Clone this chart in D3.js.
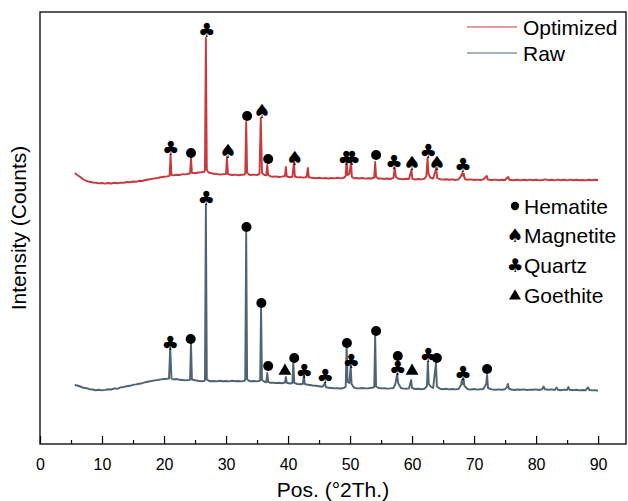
<!doctype html>
<html lang="en">
<head>
  <meta charset="utf-8">
  <title>XRD</title>
  <style>
  body { margin: 0; background: #fff; }
  svg { display: block; font-family: "Liberation Sans", Arial, sans-serif; }
  .tick line { stroke: #000; stroke-width: 1.2; }
  .tick text { font-size: 16px; fill: #000; }
  .mark { font-family: "DejaVu Sans", sans-serif; }
  </style>
</head>
<body>
  <div id="chart"></div>
  <script src="https://cdn.jsdelivr.net/npm/d3@7"></script>
  <script>
  // series as [2theta, counts] (optimized is drawn offset above raw)
  var rawSeries = [[5.6,590],[6,585],[6.5,575],[7,562],[7.5,558],[8,548],[8.5,545],[9,538],[9.5,542],[10,536],[10.5,541],[11,548],[11.5,545],[12,556],[12.5,552],[13,566],[13.5,570],[14,578],[14.5,582],[15,592],[15.5,596],[16,602],[16.5,608],[17,618],[17.5,625],[18,630],[18.5,636],[19,640],[19.5,646],[20,650],[20.5,652],[20.8,654],[21,960],[21.2,655],[21.5,645],[22,650],[22.5,642],[23,640],[23.5,636],[24,640],[24.2,642],[24.35,1010],[24.5,645],[25,638],[25.5,632],[26,628],[26.5,630],[26.6,640],[26.75,2390],[26.9,645],[27.2,632],[27.5,628],[28,630],[28.5,626],[29,632],[29.5,628],[30,630],[30.5,626],[31,632],[31.5,628],[32,630],[32.5,626],[33,632],[33.1,645],[33.25,2120],[33.4,648],[33.7,632],[34,628],[34.5,630],[35,626],[35.5,635],[35.65,1360],[35.8,640],[36.2,622],[36.5,618],[36.65,710],[36.8,620],[37.2,612],[37.5,614],[38,610],[38.5,612],[39,608],[39.5,615],[39.65,670],[39.8,612],[40.3,605],[40.7,610],[40.85,820],[41,612],[41.5,600],[42,598],[42.4,602],[42.55,690],[42.7,600],[43,595],[43.5,590],[44,585],[44.5,582],[45,578],[45.5,572],[45.8,590],[45.95,610],[46.1,570],[46.5,562],[47,560],[47.5,556],[48,558],[48.5,555],[49,560],[49.3,575],[49.45,990],[49.6,620],[49.9,610],[50.1,780],[50.25,600],[50.6,565],[51,558],[51.5,556],[52,560],[52.5,556],[53,558],[53.5,562],[53.9,570],[54.05,1080],[54.2,575],[54.6,560],[55,556],[55.5,558],[56,554],[56.5,556],[57,560],[57.3,600],[57.6,700],[57.75,610],[58.2,560],[58.5,556],[59,552],[59.5,556],[59.85,640],[60,560],[60.5,550],[61,552],[61.5,548],[62,552],[62.4,580],[62.55,820],[62.7,600],[63,575],[63.4,560],[63.85,810],[64,575],[64.5,552],[65,548],[65.5,552],[66,546],[66.5,550],[67,546],[67.5,550],[67.9,590],[68.05,640],[68.2,600],[68.3,655],[68.45,580],[69,548],[69.5,545],[70,550],[70.5,544],[71,548],[71.5,550],[71.95,600],[72.1,690],[72.25,560],[72.8,546],[73.5,542],[74,546],[74.5,542],[75,548],[75.3,570],[75.45,600],[75.6,555],[76,545],[76.5,540],[77,545],[77.5,542],[78,546],[78.5,540],[79,544],[79.5,542],[80,546],[80.5,540],[81,548],[81.2,575],[81.4,548],[82,542],[82.5,546],[83,540],[83.3,565],[83.5,542],[84,538],[84.5,544],[85,540],[85.2,570],[85.4,542],[86,538],[86.5,542],[87,536],[87.5,540],[88,538],[88.4,565],[88.6,540],[89,536],[89.5,538],[90,534]];

  var optSeries = [[5.6,2710],[6,2690],[6.5,2670],[7,2645],[7.5,2630],[8,2622],[8.5,2615],[9,2612],[9.5,2606],[10,2610],[10.5,2604],[11,2610],[11.5,2605],[12,2612],[12.5,2608],[13,2614],[13.5,2612],[14,2620],[14.5,2618],[15,2625],[15.5,2622],[16,2632],[16.5,2630],[17,2640],[17.5,2645],[18,2650],[18.5,2656],[19,2660],[19.5,2668],[20,2672],[20.5,2676],[20.9,2682],[21.05,2890],[21.2,2690],[21.5,2686],[22,2692],[22.5,2690],[23,2698],[23.5,2696],[24,2702],[24.2,2708],[24.35,2860],[24.5,2712],[25,2708],[25.5,2715],[26,2718],[26.5,2722],[26.6,2740],[26.75,4060],[26.9,2740],[27.2,2715],[27.5,2710],[28,2702],[28.5,2700],[29,2694],[29.5,2698],[30,2700],[30.15,2870],[30.3,2700],[30.7,2692],[31,2690],[31.5,2694],[32,2688],[32.5,2692],[33,2694],[33.1,2710],[33.25,3220],[33.4,2712],[33.7,2695],[34,2690],[34.5,2694],[35,2690],[35.4,2700],[35.6,3260],[35.8,2710],[36.2,2690],[36.5,2688],[36.65,2790],[36.8,2690],[37.2,2676],[37.5,2672],[38,2676],[38.5,2670],[39,2674],[39.5,2680],[39.65,2770],[39.8,2675],[40.3,2668],[40.7,2672],[40.95,2820],[41.1,2675],[41.5,2666],[42,2668],[42.5,2664],[43,2670],[43.2,2760],[43.35,2668],[43.8,2662],[44.5,2658],[45,2662],[45.5,2656],[46,2660],[46.5,2655],[47,2660],[47.5,2656],[48,2662],[48.5,2656],[49,2662],[49.3,2680],[49.45,2840],[49.6,2690],[49.9,2700],[50.15,2820],[50.3,2670],[50.7,2656],[51,2660],[51.5,2655],[52,2660],[52.5,2654],[53,2658],[53.5,2655],[53.9,2665],[54.05,2820],[54.2,2670],[54.6,2652],[55,2656],[55.5,2650],[56,2655],[56.5,2650],[57,2662],[57.2,2760],[57.4,2670],[57.8,2652],[58.5,2648],[59,2652],[59.5,2650],[59.9,2740],[60.05,2652],[60.5,2645],[61,2650],[61.5,2646],[62,2652],[62.3,2680],[62.5,2860],[62.65,2700],[63,2660],[63.4,2655],[63.9,2760],[64.05,2660],[64.5,2648],[65,2644],[65.5,2648],[66,2642],[66.5,2646],[67,2640],[67.5,2646],[67.9,2680],[68.1,2710],[68.25,2680],[68.35,2700],[68.5,2650],[69,2642],[69.5,2646],[70,2640],[70.5,2644],[71,2640],[71.5,2646],[72.05,2680],[72.2,2645],[72.8,2640],[73.5,2644],[74,2638],[74.5,2642],[75,2640],[75.5,2670],[75.7,2642],[76.2,2638],[77,2642],[77.5,2636],[78,2642],[78.5,2638],[79,2644],[79.5,2638],[80,2642],[80.5,2636],[81,2640],[81.5,2646],[82,2638],[82.5,2642],[83,2636],[83.5,2644],[84,2638],[84.5,2642],[85,2636],[85.5,2644],[86,2638],[86.5,2642],[87,2638],[87.5,2640],[88,2636],[88.5,2642],[89,2638],[89.5,2642],[90,2640]];

  // phase labels: [2theta, counts, phase]
  var optMarks = [[21.1,2960,'Q'],[24.35,2910,'H'],[26.9,4140,'Q'],[30.3,2930,'M'],[33.4,3280,'H'],[35.8,3330,'M'],[36.8,2850,'H'],[41.1,2860,'M'],[49.4,2860,'Q'],[50.3,2860,'Q'],[54.2,2890,'H'],[57.1,2820,'Q'],[60.0,2810,'M'],[62.6,2930,'Q'],[64.0,2810,'M'],[68.2,2790,'Q']];
  var rawMarks = [[21.0,1010,'Q'],[24.3,1050,'H'],[26.8,2460,'Q'],[33.3,2170,'H'],[35.7,1410,'H'],[36.8,780,'H'],[39.5,740,'G'],[41.0,860,'H'],[42.6,730,'Q'],[46.0,680,'Q'],[49.5,1010,'H'],[50.2,830,'Q'],[54.2,1130,'H'],[57.7,880,'H'],[57.7,760,'Q'],[60.0,740,'G'],[62.6,890,'Q'],[64.0,860,'H'],[68.2,710,'Q'],[72.1,750,'H']];

  var seriesNames = ['Optimized', 'Raw'];
  var seriesColors = ['#c9383b', '#4e6475'];
  var phaseKeys = ['H', 'M', 'Q', 'G'];
  var phaseNames = ['Hematite', 'Magnetite', 'Quartz', 'Goethite'];
  var majorTicks = [0, 10, 20, 30, 40, 50, 60, 70, 80, 90];
  var minorTicks = [5, 15, 25, 35, 45, 55, 65, 75, 85];

  (function() {
    var width = 628, height = 501,
        mLeft = 40, mRight = 626, mTop = 12, mBottom = 444;

    var x = d3.scaleLinear().domain([0, 94.5]).range([mLeft, mRight]);
    var y = d3.scaleLinear().domain([0, 4320]).range([mBottom, mTop]);

    var svg = d3.select('#chart').append('svg')
        .attr('width', width)
        .attr('height', height);

    var line = d3.line()
        .x(function(d) { return x(d[0]); })
        .y(function(d) { return y(d[1]); });

    [optSeries, rawSeries].forEach(function(s, i) {
      svg.append('path')
        .datum(s)
        .attr('d', line)
        .attr('fill', 'none')
        .attr('stroke', seriesColors[i])
        .attr('stroke-width', 1.9)
        .attr('stroke-linejoin', 'round');
    });

    // draws one phase marker centred at cx, cy
    var drawMark = function(g, phase, cx, cy, small) {
      if (phase === 'H') {
        g.append('circle').attr('cx', cx).attr('cy', cy).attr('r', small ? 4.2 : 5).attr('fill', '#000');
      } else if (phase === 'G') {
        g.append('path')
          .attr('d', d3.symbol().type(d3.symbolTriangle).size(small ? 62 : 72)())
          .attr('transform', 'translate(' + cx + ',' + (cy + 1) + ')')
          .attr('fill', '#000');
      } else {
        var fs = small ? 19 : 19.5;
        g.append('text')
          .attr('class', 'mark')
          .attr('x', cx).attr('y', cy + fs * 0.34)
          .attr('text-anchor', 'middle')
          .attr('font-size', fs)
          .text(phase === 'Q' ? '\u2663' : '\u2660');
      }
    };

    var marks = svg.append('g');
    optMarks.concat(rawMarks).forEach(function(m) {
      drawMark(marks, m[2], x(m[0]), y(m[1]), false);
    });

    // frame
    svg.append('rect')
      .attr('x', mLeft).attr('y', mTop)
      .attr('width', mRight - mLeft).attr('height', mBottom - mTop)
      .attr('fill', 'none').attr('stroke', '#000').attr('stroke-width', 1.3);

    var ax = svg.append('g').attr('transform', 'translate(0,' + mBottom + ')');
    ax.call(d3.axisBottom(x).tickValues(majorTicks).tickSize(-8).tickPadding(20).tickFormat(d3.format('d')));
    ax.call(function(g) { g.select('.domain').remove(); });
    ax.selectAll('.tick text').attr('dy', '0.35em');

    var axm = svg.append('g').attr('transform', 'translate(0,' + mBottom + ')');
    axm.call(d3.axisBottom(x).tickValues(minorTicks).tickSize(-4).tickFormat(''));
    axm.call(function(g) { g.select('.domain').remove(); });

    svg.append('text')
      .attr('x', (mLeft + mRight) / 2).attr('y', 497)
      .attr('text-anchor', 'middle')
      .attr('font-size', 21)
      .text('Pos. (\u00b02Th.)');

    svg.append('text')
      .attr('transform', 'translate(26,228) rotate(-90)')
      .attr('text-anchor', 'middle')
      .attr('font-size', 21)
      .text('Intensity (Counts)');

    // series legend
    seriesNames.forEach(function(n, i) {
      var ly = 27 + i * 26;
      svg.append('line')
        .attr('x1', 467).attr('x2', 517).attr('y1', ly).attr('y2', ly)
        .attr('stroke', seriesColors[i]).attr('stroke-width', 1.2);
      svg.append('text')
        .attr('x', 523).attr('y', ly + 8)
        .attr('font-size', 21)
        .text(n);
    });

    // phase legend
    phaseNames.forEach(function(n, i) {
      var ly = 206 + i * 29.7;
      drawMark(svg, phaseKeys[i], 515, ly, true);
      svg.append('text')
        .attr('x', 524).attr('y', ly + 7.5)
        .attr('font-size', 21)
        .text(n);
    });
  })();
  </script>
</body>
</html>
